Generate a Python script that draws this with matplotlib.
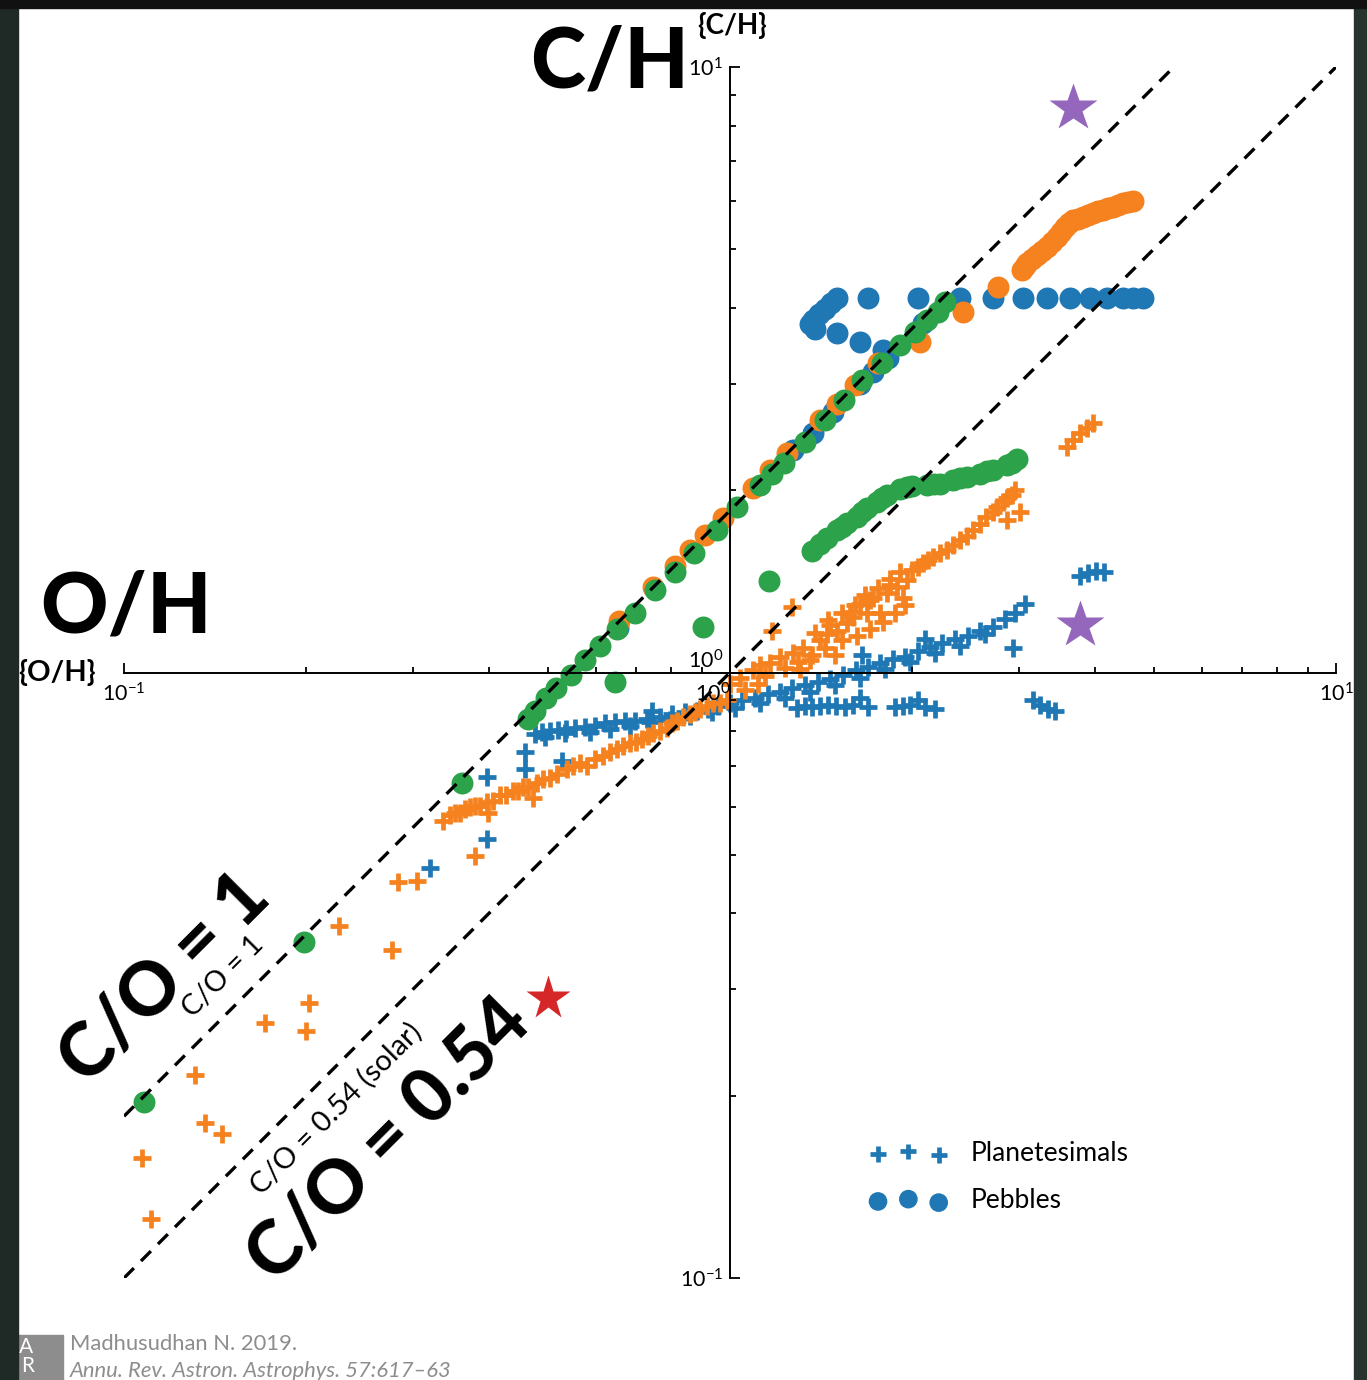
import matplotlib
matplotlib.use("Agg")
import matplotlib.pyplot as plt
from matplotlib.patches import Rectangle
from matplotlib.ticker import NullFormatter

plt.rcParams['font.family'] = ['Lato', 'DejaVu Sans']
plt.rcParams['mathtext.fontset'] = 'custom'
plt.rcParams['mathtext.rm'] = 'Lato'
plt.rcParams['mathtext.it'] = 'Lato:italic'
plt.rcParams['mathtext.bf'] = 'Lato:bold'

BLUE, ORANGE, GREEN = '#1f77b4', '#f5821f', '#2ca24a'

# ---- planetesimals (blue): main band, stray points, low clusters ----
plan_blue_oh = [0.477, 0.490, 0.505, 0.520, 0.536, 0.555, 0.576, 0.598, 0.622, 0.646,
                0.671, 0.697, 0.730, 0.743, 0.766, 0.802, 0.843, 0.883, 0.920, 0.955,
                1.000, 1.047, 1.099, 1.156, 1.210, 1.265, 1.330, 1.397, 1.462, 1.536,
                1.614, 1.651, 1.690, 1.770, 1.858, 1.945, 2.04, 2.10, 2.14, 2.24,
                2.35, 2.47, 2.59, 2.72, 2.84, 2.95, 3.07]
plan_blue_ch = [0.792, 0.799, 0.802, 0.805, 0.807, 0.811, 0.814, 0.817, 0.824, 0.827,
                0.830, 0.833, 0.839, 0.863, 0.845, 0.853, 0.859, 0.865, 0.872, 0.882,
                0.892, 0.899, 0.909, 0.920, 0.930, 0.941, 0.952, 0.963, 0.977, 0.989,
                1.008, 1.067, 1.023, 1.035, 1.051, 1.062, 1.087, 1.138, 1.100, 1.117,
                1.134, 1.151, 1.169, 1.191, 1.224, 1.256, 1.300]
plan_blue_b_oh = [0.495, 0.535, 0.587, 0.634, 0.684, 0.738, 0.796, 0.859, 0.934, 1.019,
                  1.121, 1.233, 1.355, 1.490, 1.639, 1.803, 1.982, 2.18, 2.40, 2.64]
plan_blue_b_ch = [0.781, 0.793, 0.799, 0.808, 0.817, 0.827, 0.836, 0.846, 0.862, 0.875,
                  0.892, 0.909, 0.930, 0.955, 0.981, 1.012, 1.039, 1.075, 1.108, 1.156]
plan_blue_x_oh = [2.93, 3.78, 3.90, 4.02, 4.14, 0.459, 0.459, 0.397, 0.528, 0.397, 0.320]
plan_blue_x_ch = [1.096, 1.442, 1.458, 1.469, 1.463, 0.738, 0.692, 0.673, 0.713, 0.530, 0.476]
plan_blue_low_oh = [1.291, 1.330, 1.365, 1.408, 1.452, 1.496, 1.549, 1.596, 1.640, 1.690,
                    1.871, 1.928, 1.982, 2.04, 2.10, 2.18, 3.16, 3.25, 3.35, 3.44]
plan_blue_low_ch = [0.875, 0.882, 0.878, 0.882, 0.885, 0.882, 0.878, 0.885, 0.909, 0.878,
                    0.878, 0.882, 0.885, 0.899, 0.878, 0.871, 0.899, 0.885, 0.871, 0.865]

# ---- planetesimals (orange) ----
plan_or_lo_oh = [0.336, 0.352, 0.365, 0.379, 0.397, 0.399, 0.417, 0.438, 0.455, 0.473,
                 0.481, 0.505, 0.538, 0.565, 0.581, 0.617, 0.652, 0.684, 0.716, 0.746,
                 0.787, 0.818, 0.859, 0.892, 0.938, 0.989,
                 0.345, 0.358, 0.372, 0.387, 0.406, 0.427, 0.447, 0.464, 0.491, 0.518,
                 0.551, 0.598, 0.634, 0.666, 0.700, 0.732, 0.766, 0.802, 0.836, 0.875,
                 0.916, 0.963]
plan_or_lo_ch = [0.569, 0.585, 0.596, 0.603, 0.610, 0.585, 0.627, 0.638, 0.646, 0.621,
                 0.658, 0.670, 0.693, 0.708, 0.702, 0.729, 0.748, 0.764, 0.778, 0.793,
                 0.811, 0.833, 0.855, 0.872, 0.889, 0.899,
                 0.581, 0.587, 0.600, 0.603, 0.614, 0.628, 0.638, 0.646, 0.666, 0.681,
                 0.700, 0.721, 0.738, 0.755, 0.769, 0.784, 0.802, 0.824, 0.843, 0.862,
                 0.879, 0.892]
plan_or_up_oh = [1.00, 1.039, 1.091, 1.121, 1.164, 1.210, 1.270, 1.305, 1.319, 1.355,
                 1.408, 1.445, 1.462, 1.489, 1.502, 1.559, 1.578, 1.596, 1.640, 1.683,
                 1.702, 1.722, 1.770, 1.816, 1.837, 1.888, 1.928, 1.958, 2.00, 2.08,
                 2.16, 2.28, 2.40, 2.52, 2.65, 2.76, 2.86, 2.95, 2.86, 3.01]
plan_or_up_ch = [0.959, 0.981, 1.008, 1.027, 1.035, 1.059, 1.075, 1.015, 1.096, 1.047,
                 1.130, 1.159, 1.196, 1.067, 1.173, 1.205, 1.257, 1.233, 1.300, 1.252,
                 1.315, 1.330, 1.252, 1.352, 1.393, 1.382, 1.330, 1.419, 1.475, 1.514,
                 1.549, 1.592, 1.652, 1.718, 1.803, 1.874, 1.945, 2.00, 1.783, 1.838]
plan_or_up2_oh = [1.059, 1.112, 1.142, 1.233, 1.294, 1.365, 1.435, 1.531, 1.621, 1.702,
                  1.787, 1.871, 1.945,
                  1.381, 1.452, 1.531, 1.607, 1.671, 1.754, 1.837, 1.909, 2.04, 2.12,
                  2.22, 2.33, 2.46, 2.59, 2.72, 2.82, 2.92]
plan_or_up2_ch = [0.934, 0.959, 0.985, 1.019, 1.039, 1.067, 1.096, 1.130, 1.151, 1.182,
                  1.210, 1.256, 1.291,
                  1.164, 1.219, 1.256, 1.291, 1.341, 1.377, 1.429, 1.463, 1.496, 1.531,
                  1.573, 1.622, 1.683, 1.762, 1.838, 1.909, 1.963]
plan_or_x_oh = [1.173, 1.265, 3.60, 3.68, 3.78, 3.88, 3.97,
                0.283, 0.305, 0.226, 0.277, 0.202, 0.200, 0.171, 0.131, 0.136, 0.145,
                0.107, 0.111, 0.379]
plan_or_x_ch = [1.173, 1.285, 2.355, 2.417, 2.483, 2.53, 2.58,
                0.450, 0.452, 0.382, 0.348, 0.285, 0.256, 0.264, 0.216, 0.180, 0.173,
                0.158, 0.125, 0.498]

# ---- pebbles (blue) ----
peb_blue_line_oh = [0.653, 1.270, 1.371, 1.479, 1.640, 1.722, 1.823, 2.08]
peb_blue_line_ch = [1.186, 2.33, 2.49, 2.69, 3.00, 3.13, 3.31, 3.78]
peb_blue_top_oh = [1.502, 1.468, 1.435, 1.403, 1.371, 1.355, 1.381, 1.502, 1.640, 1.788,
                   1.690, 2.04, 2.40, 2.72, 3.04, 3.33, 3.64, 3.93, 4.19, 4.45, 4.62, 4.80]
peb_blue_top_ch = [4.15, 4.07, 3.98, 3.91, 3.82, 3.76, 3.69, 3.63, 3.52, 3.41,
                   4.15, 4.15, 4.15, 4.15, 4.15, 4.15, 4.15, 4.15, 4.15, 4.15, 4.15, 4.15]

# ---- pebbles (orange) ----
peb_or_line_oh = [0.657, 0.746, 0.811, 0.859, 0.910, 0.973, 1.091, 1.164, 1.242, 1.408,
                  1.502, 1.607, 1.754, 2.06, 2.42, 2.77]
peb_or_line_ch = [1.217, 1.382, 1.502, 1.591, 1.685, 1.802, 2.02, 2.16, 2.30, 2.61,
                  2.78, 2.98, 3.25, 3.51, 3.94, 4.33]
peb_or_curve_oh = [3.03, 3.07, 3.09, 3.15, 3.21, 3.27, 3.33, 3.40, 3.47, 3.52, 3.57, 3.63,
                   3.68, 3.75, 3.83, 3.90, 3.97, 4.05, 4.13, 4.21, 4.29, 4.37, 4.45, 4.54,
                   4.62]
peb_or_curve_ch = [4.62, 4.69, 4.74, 4.82, 4.89, 4.96, 5.04, 5.14, 5.23, 5.34, 5.44, 5.52,
                   5.59, 5.62, 5.65, 5.69, 5.74, 5.78, 5.80, 5.85, 5.87, 5.92, 5.96, 5.98,
                   6.01]

# ---- pebbles (green) ----
peb_gr_line_oh = [0.108, 0.198, 0.361, 0.464, 0.477, 0.497, 0.516, 0.547, 0.576, 0.610,
                  0.651, 0.697, 0.752, 0.811, 0.873, 0.952, 1.027, 1.121, 1.173, 1.228,
                  1.330, 1.435, 1.542, 1.651, 1.782, 1.909, 2.02, 2.11, 2.20, 2.26,
                  0.646, 0.902, 1.159]
peb_gr_line_ch = [0.195, 0.359, 0.658, 0.839, 0.865, 0.906, 0.941, 0.989, 1.047, 1.108,
                  1.182, 1.256, 1.367, 1.463, 1.578, 1.717, 1.874, 2.04, 2.13, 2.22,
                  2.40, 2.61, 2.82, 3.04, 3.24, 3.47, 3.65, 3.82, 3.94, 4.09,
                  0.963, 1.191, 1.414]
peb_gr_curve_oh = [1.366, 1.408, 1.445, 1.502, 1.531, 1.559, 1.621, 1.651, 1.683, 1.749,
                   1.782, 1.816, 1.909, 1.958, 2.00, 2.11, 2.17, 2.22, 2.33, 2.40, 2.46,
                   2.59, 2.66, 2.72, 2.86, 2.92, 2.98]
peb_gr_curve_ch = [1.59, 1.628, 1.665, 1.717, 1.738, 1.763, 1.804, 1.839, 1.866, 1.909,
                   1.940, 1.963, 2.006, 2.023, 2.03, 2.04, 2.046, 2.05, 2.08, 2.093, 2.10,
                   2.13, 2.15, 2.16, 2.20, 2.22, 2.25]

# planets (stars)
jup_oh, jup_ch = [3.68, 3.78], [8.55, 1.196]
sun_oh, sun_ch = [0.501], [0.290]

# constant C/O lines (normalised to solar)
co1_oh, co1_ch = [0.1, 5.4], [0.185, 10.0]
co054_oh, co054_ch = [0.1, 10.0], [0.1, 10.0]

W, H = 1367, 1380
fig = plt.figure(figsize=(W / 100, H / 100), dpi=100)
fig.patch.set_facecolor('white')
ax = fig.add_axes([124 / W, 102 / H, 1212 / W, 1211 / H])
ax.patch.set_alpha(0)

plus = dict(marker='+', s=180, linewidths=3.4)
dot = dict(marker='o', s=250, linewidths=0)

ax.scatter(plan_blue_oh, plan_blue_ch, color=BLUE, label='Planetesimals', **plus)
ax.scatter(plan_blue_b_oh, plan_blue_b_ch, color=BLUE, **plus)
ax.scatter(plan_blue_x_oh, plan_blue_x_ch, color=BLUE, **plus)
ax.scatter(plan_blue_low_oh, plan_blue_low_ch, color=BLUE, **plus)
ax.scatter(peb_blue_line_oh, peb_blue_line_ch, color=BLUE, label='Pebbles', **dot)
ax.scatter(peb_blue_top_oh, peb_blue_top_ch, color=BLUE, **dot)

ax.scatter(plan_or_lo_oh, plan_or_lo_ch, color=ORANGE, **plus)
ax.scatter(plan_or_up_oh, plan_or_up_ch, color=ORANGE, **plus)
ax.scatter(plan_or_up2_oh, plan_or_up2_ch, color=ORANGE, **plus)
ax.scatter(plan_or_x_oh, plan_or_x_ch, color=ORANGE, **plus)
ax.scatter(peb_or_line_oh, peb_or_line_ch, color=ORANGE, **dot)
ax.scatter(peb_or_curve_oh, peb_or_curve_ch, color=ORANGE, **dot)

ax.scatter(peb_gr_line_oh, peb_gr_line_ch, color=GREEN, **dot)
ax.scatter(peb_gr_curve_oh, peb_gr_curve_ch, color=GREEN, **dot)

ax.plot(co1_oh, co1_ch, color='k', lw=2.4, ls=(0, (4.2, 3.0)), zorder=3)
ax.plot(co054_oh, co054_ch, color='k', lw=2.4, ls=(0, (4.2, 3.0)), zorder=3)

ax.plot(jup_oh, jup_ch, ls='none', marker='*', ms=36, color='#9467bd', mec='none', zorder=4)
ax.plot(sun_oh, sun_ch, ls='none', marker='*', ms=33, color='#d62728', mec='none', zorder=4)

ax.set_xscale('log')
ax.set_yscale('log')
ax.set_xlim(0.1, 10)
ax.set_ylim(0.1, 10)
for side in ['top', 'right']:
    ax.spines[side].set_visible(False)
ax.spines['left'].set_position(('data', 1))
ax.spines['bottom'].set_position(('data', 1))
for side in ['left', 'bottom']:
    ax.spines[side].set_linewidth(1.4)

ax.set_xticks([0.1, 1, 10])
ax.set_yticks([0.1, 1, 10])
ax.set_xticklabels([r'$10^{-1}$', r'$10^{0}$', r'$10^{1}$'])
ax.set_yticklabels([r'$10^{-1}$', r'$10^{0}$', r'$10^{1}$'])
ax.xaxis.set_minor_formatter(NullFormatter())
ax.yaxis.set_minor_formatter(NullFormatter())
ax.tick_params(which='both', direction='in', width=1.3, labelsize=15.5)
ax.tick_params(which='major', length=7)
ax.tick_params(which='minor', length=4.5)
ax.tick_params(axis='x', pad=7)
ax.tick_params(axis='y', pad=5)
ax.get_xticklabels()[1].set_horizontalalignment('right')
ax.get_yticklabels()[1].set_verticalalignment('bottom')

leg = ax.legend(loc='upper left', bbox_to_anchor=(0.596, 0.133), frameon=False,
                scatterpoints=3, fontsize=19, handlelength=2.9, handletextpad=0.9,
                labelspacing=0.86, markerscale=0.85, borderpad=0.4)

# axis names
big = dict(fontsize=60, fontweight='black', color='black', transform=ax.transAxes, clip_on=False)
ax.text(0.466, 0.983, 'C/H', ha='right', va='baseline', **big)
ax.text(-0.069, 0.533, 'O/H', ha='left', va='baseline', **big)
ax.text(0.473, 1.027, '{C/H}', ha='left', va='baseline', fontsize=20, fontweight='bold',
        transform=ax.transAxes, clip_on=False)
ax.text(-0.0875, 0.493, '{O/H}', ha='left', va='baseline', fontsize=21, fontweight='bold',
        transform=ax.transAxes, clip_on=False)

# C/O labels along the lines
rot = dict(rotation=45, rotation_mode='anchor', ha='center', va='center',
           transform=ax.transAxes, clip_on=False)
ax.text(0.034, 0.247, 'C/O = 1', fontsize=53, fontweight='black', **rot)
ax.text(0.219, 0.114, 'C/O = 0.54', fontsize=53, fontweight='black', **rot)
ax.text(0.082, 0.249, 'C/O = 1', fontsize=20.5, **rot)
ax.text(0.175, 0.140, 'C/O = 0.54 (solar)', fontsize=21, **rot)

# frame and credit line
fig.add_artist(Rectangle((18 / W, 0), 45 / W, 45 / H, transform=fig.transFigure,
                         color='#8d8d8d', zorder=5))
fig.text(19 / W, 1 - 1347 / H, 'A', color='white', fontsize=15, va='center', zorder=6)
fig.text(21 / W, 1 - 1366 / H, 'R', color='white', fontsize=15, va='center', zorder=6)
fig.text(70 / W, 1 - 1344 / H, 'Madhusudhan N. 2019.', color='#8d8d8d', fontsize=15.8,
         va='center')
fig.text(70 / W, 1 - 1371 / H, 'Annu. Rev. Astron. Astrophys. 57:617\u201363',
         color='#8d8d8d', fontsize=15.8, style='italic', va='center')
fig.add_artist(Rectangle((0, 0), 18 / W, 1, transform=fig.transFigure,
                         color='#1f2925', zorder=10))
fig.add_artist(Rectangle((1354 / W, 0), 13 / W, 1, transform=fig.transFigure,
                         color='#27332f', zorder=10))
fig.add_artist(Rectangle((0, 1 - 8 / H), 1, 8 / H, transform=fig.transFigure,
                         color='#111111', zorder=10))

fig.savefig('out.png', dpi=100)
